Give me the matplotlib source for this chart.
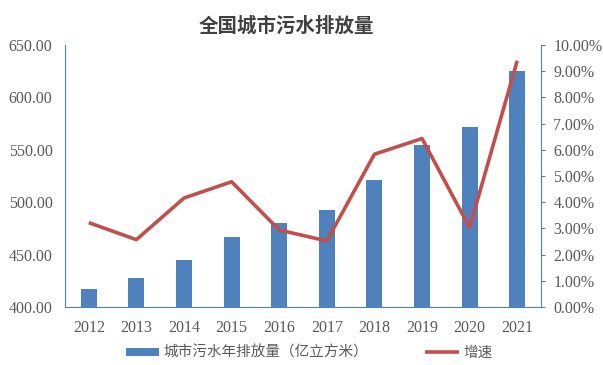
import matplotlib
matplotlib.use("Agg")
import matplotlib.pyplot as plt
from matplotlib.ticker import FuncFormatter

plt.rcParams['font.family'] = ['Liberation Serif', 'Noto Sans CJK SC']

years = ['2012', '2013', '2014', '2015', '2016', '2017', '2018', '2019', '2020', '2021']
discharge = [416.8, 427.5, 445.3, 466.6, 480.3, 492.4, 521.1, 554.6, 571.4, 625.1]
growth = [3.22, 2.57, 4.16, 4.78, 2.94, 2.52, 5.83, 6.43, 3.03, 9.40]

bar_color = '#4F81BD'
line_color = '#C0504D'
text_color = '#595959'
spine_color = '#4F81BD'

fig = plt.figure(figsize=(6.03, 3.65), dpi=100)
ax = fig.add_axes([65/603, 1 - 307/365, (541-65)/603, (307-45)/365])
x = list(range(len(years)))
ax.bar(x, [d - 400 for d in discharge], bottom=400, width=0.34, color=bar_color,
       label='城市污水年排放量（亿立方米）', zorder=2)
ax.set_ylim(400, 650)
ax.set_xlim(-0.5, len(years) - 0.5)
ax.set_yticks([400, 450, 500, 550, 600, 650])
ax.yaxis.set_major_formatter(FuncFormatter(lambda v, p: f'{v:.2f}'))
ax.set_xticks(x)
ax.set_xticklabels(years)
ax.tick_params(axis='y', length=0, labelsize=11.5, colors=text_color, pad=9)
ax.tick_params(axis='x', length=0, labelsize=11.5, colors=text_color, pad=9)
for s in ['top', 'right']:
    ax.spines[s].set_visible(False)
ax.spines['left'].set_color(spine_color)
ax.spines['bottom'].set_color(spine_color)

ax2 = ax.twinx()
ax2.plot(x, growth, color=line_color, linewidth=2.6, label='增速', zorder=3,
         solid_capstyle='butt')
ax2.set_ylim(0, 10)
ax2.set_yticks(range(0, 11))
ax2.yaxis.set_major_formatter(FuncFormatter(lambda v, p: f'{v:.2f}%'))
ax2.tick_params(axis='y', length=3, direction='out', color=spine_color,
                labelsize=11.5, colors=text_color, pad=6)
ax2.tick_params(axis='y', color=spine_color)
for s in ['top', 'left', 'bottom']:
    ax2.spines[s].set_visible(False)
ax2.spines['right'].set_color(spine_color)

fig.text(286/603, 1 - 26/365, '全国城市污水排放量', ha='center', va='center',
         fontsize=14, fontweight='bold', color='#404040',
         family=['Noto Sans CJK SC', 'DejaVu Sans'])

h1, l1 = ax.get_legend_handles_labels()
h2, l2 = ax2.get_legend_handles_labels()
leg = fig.legend(h1 + h2, l1 + l2, loc='center', bbox_to_anchor=(309/603, 1 - 353/365),
                 ncol=2, frameon=False, columnspacing=3.9, handlelength=2.3,
                 handleheight=0.5, handletextpad=0.3,
                 prop={'family': ['Noto Sans CJK SC', 'DejaVu Sans'], 'size': 10.5})
for t in leg.get_texts():
    t.set_color(text_color)

fig.savefig('out.png', dpi=100)
